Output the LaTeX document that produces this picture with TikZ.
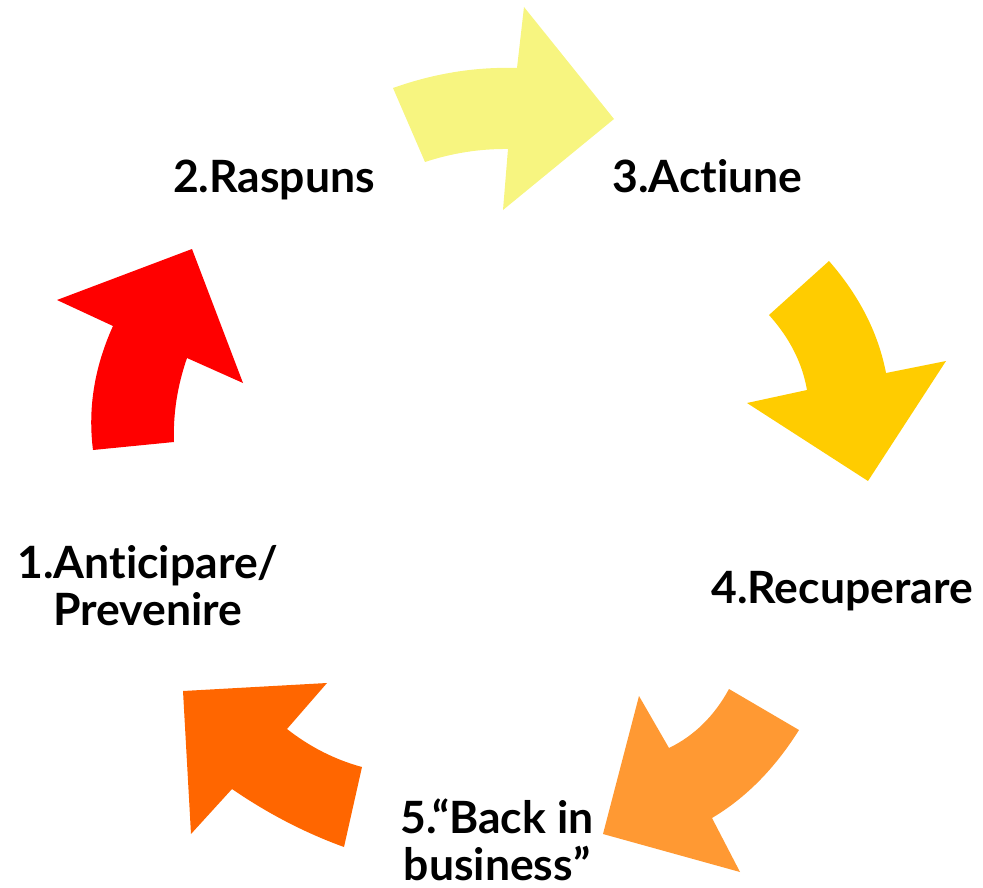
\documentclass[tikz,border=0pt]{standalone}
\usepackage{fontspec}
\setmainfont{Lato}[Ligatures={NoCommon,NoContextual}]
\definecolor{cRed}{HTML}{FF0000}
\definecolor{cOrange}{HTML}{FF6600}
\definecolor{cLightOrange}{HTML}{FF9933}
\definecolor{cGold}{HTML}{FFCC00}
\definecolor{cLightYellow}{HTML}{F7F580}
\begin{document}
\begin{tikzpicture}[x=1pt,y=-1pt,
  lbl/.style={font=\fontsize{44.5}{47}\selectfont\bfseries, inner sep=0pt, anchor=base, align=center}]
\useasboundingbox (0,0) rectangle (983,888);
% light yellow arrow (2 -> 3)
\fill[cLightYellow] (393,88) .. controls (434.3,73.3) and (475.7,66.7) .. (517,68)
  -- (524,7) -- (614,119) -- (503,210) -- (508,149)
  .. controls (480,148.7) and (452.3,153) .. (425,162) -- cycle;
% gold arrow (3 -> 4)
\fill[cGold] (769,315) -- (829,261)
  .. controls (859.3,295.7) and (878.3,333) .. (886,373)
  -- (946,361) -- (868,481) -- (747,403) -- (807,390)
  .. controls (802.3,363) and (789.7,338) .. (769,315) -- cycle;
% light orange arrow (4 -> 5)
\fill[cLightOrange] (729,689) -- (799,730)
  .. controls (774.7,768.7) and (745.7,798) .. (712,818)
  -- (740,872) -- (603,834) -- (639,696) -- (669,748)
  .. controls (694.3,735.7) and (714.3,716) .. (729,689) -- cycle;
% orange arrow (5 -> 1)
\fill[cOrange] (183,691) -- (327,683) -- (287,729)
  .. controls (310,747) and (335,759.7) .. (362,767)
  -- (344,847)
  .. controls (305.3,833) and (268,813.7) .. (232,789)
  -- (191,834) -- cycle;
% red arrow (1 -> 2)
\fill[cRed] (93,450) -- (174,442)
  .. controls (173,414) and (177.3,386) .. (187,358)
  -- (243,383) -- (192,249) -- (57,300) -- (113,326)
  .. controls (94.3,367.3) and (87.7,408.7) .. (93,450) -- cycle;
% labels
\node[lbl] (l1) at (148,625) {1.Anticipare/\\Prevenire};
\node[lbl] (l2) at (274,193) {2.Raspuns};
\node[lbl] (l3) at (707.5,193) {3.Actiune};
\node[lbl] (l4) at (842,603) {4.Recuperare};
\node[lbl] (l5) at (497,880) {5.“Back in\\business”};
\end{tikzpicture}
\end{document}
